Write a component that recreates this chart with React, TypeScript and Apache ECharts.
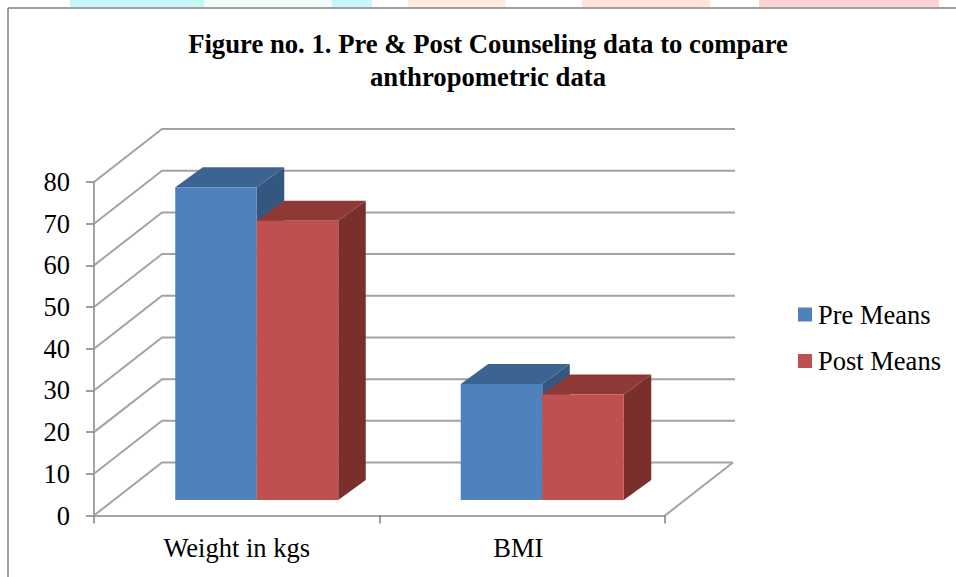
import React, { useEffect, useRef } from "react";
import * as echarts from "echarts";

const categories = ["Weight in kgs", "BMI"];
const preMeans = [75, 27.8];
const postMeans = [67, 25.3];
const yTicks = [0, 10, 20, 30, 40, 50, 60, 70, 80];
const seriesNames = ["Pre Means", "Post Means"];
const titleLines = "Figure no. 1. Pre & Post Counseling data to compare\nanthropometric data";

const FONT = "'Liberation Serif', 'Times New Roman', serif";
const WALL_DX = 68;
const WALL_DY = -53;
const WALL_EXT = 2;
const FLOOR_DX = 20;
const FLOOR_DY = -15.5;
const DEPTH_DX = 27.5;
const DEPTH_DY = -20;
const BAR_W = 81.5;
const GRID_COLOR = "#a3a3a3";

function wallRender(params: any, api: any) {
  const cs = params.coordSys;
  const y = api.coord([0, api.value(0)])[1];
  const x0 = cs.x;
  const isFloor = api.value(0) === 0;
  const children: any[] = [
    {
      type: "polyline",
      shape: {
        points: [
          [x0, y],
          [x0 + WALL_DX, y + WALL_DY],
          [x0 + cs.width + WALL_DX + (isFloor ? 0 : WALL_EXT), y + WALL_DY],
        ],
      },
      style: { fill: "none", stroke: GRID_COLOR, lineWidth: 2 },
    },
  ];
  if (isFloor) {
    children.push({
      type: "line",
      shape: { x1: x0 + cs.width, y1: y, x2: x0 + cs.width + WALL_DX, y2: y + WALL_DY },
      style: { stroke: GRID_COLOR, lineWidth: 2 },
    });
  }
  return { type: "group", children };
}

function barRender(offsetIndex: number, front: string, top: string, side: string) {
  return (params: any, api: any) => {
    const cat = api.value(0);
    const val = api.value(1);
    const c = api.coord([cat, val]);
    const b = api.coord([cat, 0]);
    const left = c[0] + FLOOR_DX - BAR_W + offsetIndex * BAR_W;
    const right = left + BAR_W;
    const yTop = c[1] + FLOOR_DY;
    const yBase = b[1] + FLOOR_DY;
    return {
      type: "group",
      children: [
        {
          type: "polygon",
          shape: { points: [[right, yTop], [right + DEPTH_DX, yTop + DEPTH_DY], [right + DEPTH_DX, yBase + DEPTH_DY], [right, yBase]] },
          style: { fill: side },
        },
        {
          type: "polygon",
          shape: { points: [[left, yTop], [left + DEPTH_DX, yTop + DEPTH_DY], [right + DEPTH_DX, yTop + DEPTH_DY], [right, yTop]] },
          style: { fill: top },
        },
        {
          type: "rect",
          shape: { x: left, y: yTop, width: BAR_W, height: yBase - yTop },
          style: { fill: front },
        },
      ],
    };
  };
}

const strip = (x: number, width: number, fill: string) => ({
  type: "rect",
  shape: { x, y: 0, width, height: 7 },
  style: { fill },
  silent: true,
});

export default function App() {
  const ref = useRef<HTMLDivElement>(null);
  useEffect(() => {
    document.body.style.margin = "0";
    const chart = echarts.init(ref.current!, undefined, { renderer: "svg" });
    chart.setOption({
      animation: false,
      backgroundColor: "#ffffff",
      textStyle: { fontFamily: FONT },
      title: {
        text: titleLines,
        left: 483,
        top: 22,
        textAlign: "center",
        textStyle: { fontFamily: FONT, fontWeight: "bold", fontSize: 26.7, lineHeight: 33.5, color: "#000" },
      },
      legend: {
        orient: "vertical",
        left: 798,
        top: 301,
        padding: 0,
        icon: "rect",
        itemWidth: 14,
        itemHeight: 14,
        itemGap: 19.5,
        data: seriesNames,
        textStyle: { fontFamily: FONT, fontSize: 26.5, color: "#000", padding: [0, 0, 4, 1] },
      },
      grid: { left: 94, top: 182, width: 571, height: 333.5 },
      xAxis: {
        type: "category",
        data: categories,
        axisLine: { lineStyle: { color: GRID_COLOR, width: 2 } },
        axisTick: { show: true, length: 8, lineStyle: { color: "#808080", width: 1.5 } },
        axisLabel: {
          margin: 19,
          fontFamily: FONT,
          fontSize: 26.5,
          color: "#000",
          formatter: (v: string) => (v === "BMI" ? "{b|" + v + "}" : v),
          rich: { b: { fontFamily: FONT, fontSize: 26.5, color: "#000", padding: [0, 8, 0, 0] } },
        },
      },
      yAxis: {
        type: "value",
        min: 0,
        max: 80,
        interval: 10,
        splitLine: { show: false },
        axisLine: { show: true, lineStyle: { color: GRID_COLOR, width: 2 } },
        axisTick: { show: true, length: 8, lineStyle: { color: "#808080", width: 1.5 } },
        axisLabel: { margin: 24, fontFamily: FONT, fontSize: 26.5, color: "#000" },
      },
      graphic: [
        strip(70, 134, "#c8f6f6"),
        strip(204, 128, "#f3fcfc"),
        strip(332, 40, "#c8f6fb"),
        strip(408, 98, "#fdeedd"),
        strip(582, 128, "#fde5dc"),
        strip(759, 180, "#fbd5d5"),
        { type: "line", shape: { x1: 8, y1: 8, x2: 956, y2: 8 }, style: { stroke: "#808080", lineWidth: 1.5 }, silent: true },
        { type: "line", shape: { x1: 8, y1: 8, x2: 8, y2: 577 }, style: { stroke: "#808080", lineWidth: 1.5 }, silent: true },
      ],
      series: [
        {
          type: "custom",
          name: "walls",
          renderItem: wallRender,
          data: yTicks.map((v) => [v]),
          encode: { y: 0 },
          silent: true,
          z: 1,
        },
        {
          type: "custom",
          name: seriesNames[0],
          renderItem: barRender(0, "#4f81bd", "#3c6490", "#33577f"),
          itemStyle: { color: "#4f81bd" },
          data: preMeans.map((v, i) => [i, v]),
          encode: { x: 0, y: 1 },
          z: 2,
        },
        {
          type: "custom",
          name: seriesNames[1],
          renderItem: barRender(1, "#c0504d", "#8f3937", "#7a2f2d"),
          itemStyle: { color: "#c0504d" },
          data: postMeans.map((v, i) => [i, v]),
          encode: { x: 0, y: 1 },
          z: 3,
        },
      ],
    });
    return () => chart.dispose();
  }, []);
  return <div ref={ref} style={{ width: 956, height: 577 }} />;
}
